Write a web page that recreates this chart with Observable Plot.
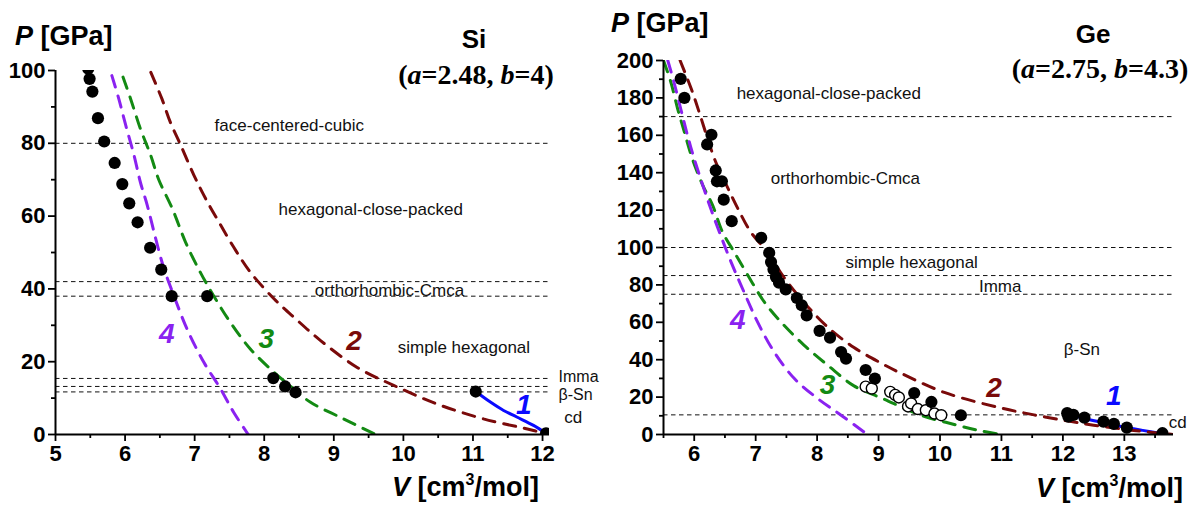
<!DOCTYPE html>
<html><head><meta charset="utf-8">
<script src="https://cdn.jsdelivr.net/npm/d3@7"></script>
<script src="https://cdn.jsdelivr.net/npm/@observablehq/plot@0.6"></script>
<style>
body{margin:0;background:#fff;}
#wrap{position:relative;width:1203px;height:506px;overflow:hidden;font-family:"Liberation Sans",Arial,sans-serif;}
#left,#right{position:absolute;top:0;}
#left{left:0;} #right{left:600px;}
#overlay{position:absolute;left:0;top:0;pointer-events:none;font-family:"Liberation Sans",Arial,sans-serif;}
</style></head><body>
<div id="wrap">
<div id="left"></div><div id="right"></div>
<svg id="overlay" width="1203" height="506">
  <text x="15" y="45" font-size="27" font-weight="bold"><tspan font-style="italic">P</tspan> [GPa]</text>
  <text x="474" y="48" font-size="26" font-weight="bold" text-anchor="middle">Si</text>
  <text x="476" y="84" font-family="Liberation Serif" font-size="28" font-weight="bold" text-anchor="middle">(<tspan font-style="italic">a</tspan>=2.48, <tspan font-style="italic">b</tspan>=4)</text>
  <text x="392" y="496" font-size="27" font-weight="bold"><tspan font-style="italic">V</tspan> [cm<tspan dy="-11" font-size="16">3</tspan><tspan dy="11">/mol]</tspan></text>
  <text x="611" y="32" font-size="27" font-weight="bold"><tspan font-style="italic">P</tspan> [GPa]</text>
  <text x="1093" y="43" font-size="26" font-weight="bold" text-anchor="middle">Ge</text>
  <text x="1100" y="78" font-family="Liberation Serif" font-size="28" font-weight="bold" text-anchor="middle">(<tspan font-style="italic">a</tspan>=2.75, <tspan font-style="italic">b</tspan>=4.3)</text>
  <text x="1036" y="497" font-size="27" font-weight="bold"><tspan font-style="italic">V</tspan> [cm<tspan dy="-11" font-size="16">3</tspan><tspan dy="11">/mol]</tspan></text>
</svg>
</div>
<script>
// ---------- Si data ----------
const siBounds = [80, 42, 38, 15.4, 13.2, 11.7];
const siDotV = [5.47,5.49,5.53,5.61,5.70,5.85,5.96,6.06,6.18,6.36,6.52,6.67,7.18,8.13,8.30,8.45,11.04,12.05];
const siDotP = [100.5,97.7,94.2,86.9,80.5,74.6,68.8,63.5,58.3,51.3,45.3,38.0,38.0,15.5,13.2,11.6,11.8,0.3];
const siC1V = [11.04,11.25,11.44,11.63,11.87,12.05];
const siC1P = [11.8,8.9,6.6,4.8,2.5,0.3];
const siC2V = [6.37,6.53,6.65,6.79,6.99,7.16,7.35,7.56,7.80,8.14,8.45,8.81,9.33,9.86,10.48,11.15,11.87,12.05];
const siC2P = [99.5,92.2,85.8,79.9,71.2,64.7,58.3,51.5,44.6,37.3,31.8,25.8,18.5,13.5,8.4,4.3,1.1,0];
const siC3V = [5.97,6.08,6.22,6.37,6.48,6.68,6.87,7.08,7.27,7.51,7.80,8.14,8.42,8.66,9.14,9.60];
const siC3P = [98.2,92.2,84.0,76.6,70.2,62.0,52.8,44.6,38.2,30.9,23.5,17.1,12.6,8.9,4.3,0];
const siC4V = [5.81,5.91,6.01,6.13,6.22,6.32,6.44,6.56,6.70,6.89,7.13,7.37,7.56,7.77];
const siC4P = [98.6,92.2,84.9,76.6,69.3,62.9,53.8,45.5,38.2,29.0,19.9,12.6,6.1,0];
const siPhaseText = ["face-centered-cubic","hexagonal-close-packed","orthorhombic-Cmca","simple hexagonal","Imma","β-Sn","cd"];
const siPhaseV = [8.36,9.53,9.80,10.87,12.23,12.23,12.44];
const siPhaseP = [84.9,61.8,39.6,24.0,15.8,10.9,4.75];
const siPhaseAnchor = ["middle","middle","middle","middle","start","start","middle"];
const siNumText = ["1","2","3","4"];
const siNumV = [11.73,9.29,8.03,6.60];
const siNumP = [8.0,25.8,26.3,27.7];

// ---------- Ge data ----------
const geBounds = [170, 100, 85, 75, 10.5];
const geDotV = [5.78,5.84,6.28,6.21,6.35,6.37,6.45,6.48,6.61,7.09,7.22,7.25,7.29,7.33,7.38,7.49,7.67,7.75,7.83,8.04,8.21,8.39,8.47,8.79,8.94,9.58,9.86,10.34,12.07,12.09,12.17,12.35,12.66,12.83,13.04,13.62];
const geDotP = [190.2,180.0,160.3,155.1,141.2,135.4,135.4,125.6,114.1,105.2,97.2,92.2,88.3,84.2,81.2,77.6,73.0,69.1,63.7,55.4,51.8,44.1,40.6,34.5,29.9,22.2,17.4,10.3,11.4,9.5,10.5,9.0,6.9,5.7,3.7,0.7];
const geOpenV = [8.79,8.89,9.19,9.27,9.33,9.48,9.53,9.64,9.77,9.91,10.02];
const geOpenP = [25.6,24.6,22.8,21.2,19.8,15.0,16.6,13.6,13.0,11.2,10.3];
const geC1V = [12.07,12.35,12.66,12.95,13.30,13.62];
const geC1P = [10.9,8.6,6.3,4.3,2.2,0.4];
const geC2V = [5.77,5.95,6.08,6.22,6.35,6.54,6.71,6.92,7.19,7.46,7.79,8.17,8.60,9.05,9.35,10.07,10.99,11.53,12.07,12.50,13.15,13.80];
const geC2P = [200,185,172.4,158,145.7,132.3,120.8,108.3,97.6,84,70.5,57.5,46.5,38,33,22.5,14.2,10.5,7.3,5.0,2.2,0];
const geC3V = [5.50,5.62,5.73,5.84,5.97,6.14,6.30,6.46,6.65,6.87,7.14,7.41,7.79,8.17,8.60,9.07,9.69,10.17,10.61,11.0];
const geC3P = [200,188.4,174.2,161.7,147.4,133.2,122.5,108.3,97.6,85.3,70.9,60.2,47.7,37.1,26,19.2,10.3,5.9,2.3,0];
const geC4V = [5.57,5.67,5.78,5.89,6.00,6.14,6.27,6.43,6.60,6.81,7.03,7.30,7.63,8.01,8.39,8.82];
const geC4P = [200,188.4,174.2,160,147.4,133.2,120.7,106.5,92.2,76.2,60.2,44.2,29.9,19.2,10.3,0];
const gePhaseText = ["hexagonal-close-packed","orthorhombic-Cmca","simple hexagonal","Imma","β-Sn","cd"];
const gePhaseV = [8.19,8.46,9.54,10.98,12.31,13.87];
const gePhaseP = [182.2,137.1,92.2,78.9,45.6,6.6];
const gePhaseAnchor = ["middle","middle","middle","middle","middle","middle"];
const geNumText = ["1","2","3","4"];
const geNumV = [12.83,10.88,8.17,6.71];
const geNumP = [20.5,24.6,26.3,61.1];

const curveColors = ["#0a0aff","#7a0a0a","#138a13","#8a22f0"];

const zipVP = (V, P) => V.map((v, i) => ({V: v, P: P[i]}));
const range = (a, b, s) => d3.range(a, b + s / 2, s);

function panel(o) {
  const curves = o.curves.map(([V, P], i) => Plot.line(zipVP(V, P), {
    x: "V", y: "P", stroke: curveColors[i], strokeWidth: 3,
    strokeDasharray: i === 0 ? null : "12,9", curve: "catmull-rom", clip: true
  }));
  const phases = o.phaseText.map((t, i) => ({t, V: o.phaseV[i], P: o.phaseP[i], a: o.phaseAnchor[i]}));
  const nums = o.numText.map((t, i) => ({t, V: o.numV[i], P: o.numP[i], c: curveColors[i]}));
  return Plot.plot({
    width: o.width, height: 506,
    marginLeft: o.ml, marginRight: o.mr, marginTop: o.mt, marginBottom: o.mb,
    x: {domain: o.xDomain, label: null},
    y: {domain: o.yDomain, label: null},
    color: {type: "identity"},
    style: {fontFamily: "'Liberation Sans', Arial, sans-serif", fontSize: "22px", fontWeight: "bold", color: "black", background: "transparent", overflow: "visible"},
    marks: [
      Plot.ruleY(o.bounds, {stroke: "#111", strokeWidth: 1, strokeDasharray: "4.5,3.5"}),
      ...curves,
      o.openV ? Plot.dot(zipVP(o.openV, o.openP), {x: "V", y: "P", r: 5.5, fill: "white", stroke: "black", strokeWidth: 1.4}) : null,
      Plot.dot(zipVP(o.dotV, o.dotP), {x: "V", y: "P", r: 6.1, fill: "black", clip: true}),
      Plot.text(phases.filter(d => d.a === "middle"), {x: "V", y: "P", text: "t", fontSize: 17, fontWeight: "normal", fill: "#111", textAnchor: "middle"}),
      Plot.text(phases.filter(d => d.a === "start"), {x: "V", y: "P", text: "t", fontSize: 16, fontWeight: "normal", fill: "#111", textAnchor: "start"}),
      Plot.text(nums, {x: "V", y: "P", text: "t", fill: "c", fontSize: 28, fontWeight: "bold", fontStyle: "italic"}),
      Plot.ruleX([o.xDomain[0]], {strokeWidth: 2}),
      Plot.ruleY([o.yDomain[0]], {strokeWidth: 2}),
      Plot.axisX({ticks: o.xMajor, tickSize: 7, tickPadding: 4, strokeWidth: 1.8, label: null}),
      Plot.axisX({ticks: o.xMinor, tickSize: 4, tickFormat: () => "", strokeWidth: 1.8, label: null}),
      Plot.axisY({ticks: o.yMajor, tickSize: 7, tickPadding: 3, strokeWidth: 1.8, label: null}),
      Plot.axisY({ticks: o.yMinor, tickSize: 4, tickFormat: () => "", strokeWidth: 1.8, label: null})
    ]
  });
}

document.getElementById("left").append(panel({
  width: 600, ml: 55, mr: 51, mt: 70, mb: 72,
  xDomain: [5, 12.1], yDomain: [0, 100],
  xMajor: range(5, 12, 1), xMinor: range(5.5, 11.5, 1),
  yMajor: range(0, 100, 20), yMinor: range(10, 90, 20),
  bounds: siBounds,
  curves: [[siC1V, siC1P], [siC2V, siC2P], [siC3V, siC3P], [siC4V, siC4P]],
  dotV: siDotV, dotP: siDotP,
  phaseText: siPhaseText, phaseV: siPhaseV, phaseP: siPhaseP, phaseAnchor: siPhaseAnchor,
  numText: siNumText, numV: siNumV, numP: siNumP
}));

document.getElementById("right").append(panel({
  width: 603, ml: 63, mr: 30, mt: 60, mb: 72,
  xDomain: [5.5, 13.8], yDomain: [0, 200],
  xMajor: range(6, 13, 1), xMinor: range(5.5, 13.5, 1),
  yMajor: range(0, 200, 20), yMinor: range(10, 190, 20),
  bounds: geBounds,
  curves: [[geC1V, geC1P], [geC2V, geC2P], [geC3V, geC3P], [geC4V, geC4P]],
  dotV: geDotV, dotP: geDotP, openV: geOpenV, openP: geOpenP,
  phaseText: gePhaseText, phaseV: gePhaseV, phaseP: gePhaseP, phaseAnchor: gePhaseAnchor,
  numText: geNumText, numV: geNumV, numP: geNumP
}));
</script>
</body></html>
